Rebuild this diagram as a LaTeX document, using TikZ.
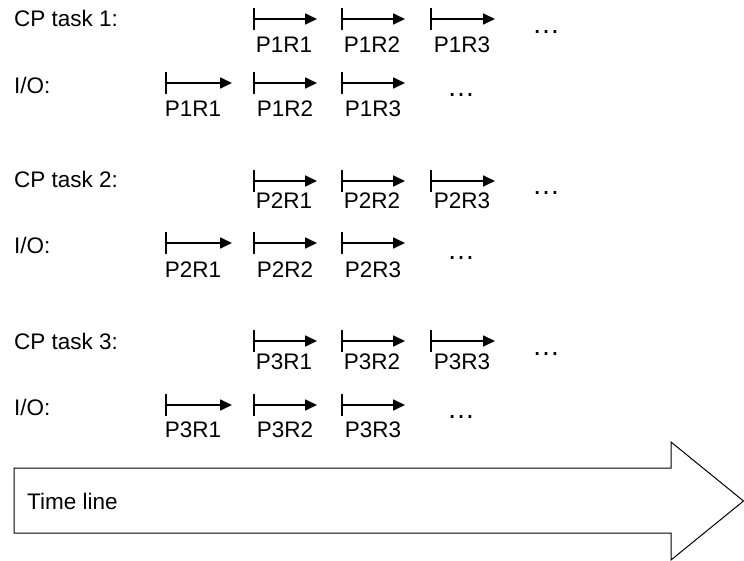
\documentclass[tikz,border=0pt]{standalone}
\usepackage{fontspec}
\setmainfont{Liberation Sans}
\usetikzlibrary{arrows.meta}
\begin{document}
\begin{tikzpicture}[x=1pt,y=-1pt,
  seg/.style={line width=1.7pt,{Bar[width=22pt]}-{Triangle[length=12pt,width=11pt]}},
  txt/.style={inner sep=0pt,font=\fontsize{22.5}{27}\selectfont},
  lbl/.style={txt,anchor=base},
  rowlbl/.style={txt,anchor=base west},
  dotlbl/.style={inner sep=0pt,anchor=base,font=\fontsize{28}{32}\selectfont},
  timeline/.style={draw,line width=1pt,line join=miter}]
\useasboundingbox (0,0) rectangle (744,561);
\foreach \b/\name/\cpt/\cpy/\cpl/\iot/\ioy/\iol/\cpd/\iod in
  {1/CP task 1:/27/19/53/94/83/117/34/97,
   2/CP task 2:/188/181/209/254/243/277/195/260,
   3/CP task 3:/349/341/369/415/405/437/355/418}{
  \node[rowlbl] (cp\b) at (14,\cpt) {\name};
  \node[rowlbl] (io\b) at (14,\iot) {I/O:};
  \foreach \r/\cs/\ce/\cl/\is/\ie/\il in
    {1/253/317/284/165/232/193,
     2/341/405/372/253/317/285,
     3/430/495/462/341/405/373}{
    \coordinate (cp\b s\r) at (\cs,\cpy);
    \coordinate (cp\b e\r) at (\ce,\cpy);
    \draw[seg] (cp\b s\r) -- (cp\b e\r);
    \node[lbl] (cp\b l\r) at (\cl,\cpl) {P\b R\r};
    \coordinate (io\b s\r) at (\is,\ioy);
    \coordinate (io\b e\r) at (\ie,\ioy);
    \draw[seg] (io\b s\r) -- (io\b e\r);
    \node[lbl] (io\b l\r) at (\il,\iol) {P\b R\r};
  }
  \node[dotlbl] (cp\b d) at (546,\cpd) {…};
  \node[dotlbl] (io\b d) at (461,\iod) {…};
}
\draw[timeline] (14,468) -- (671,468) -- (671,442) -- (743.5,501)
  -- (671,560) -- (671,533) -- (14,533) -- cycle;
\node[rowlbl] (tl) at (27,509) {Time line};
\end{tikzpicture}
\end{document}
